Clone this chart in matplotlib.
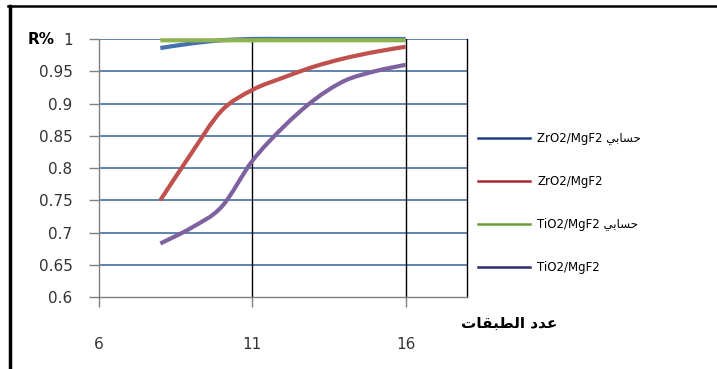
import matplotlib
matplotlib.use("Agg")
import matplotlib.pyplot as plt
from matplotlib.lines import Line2D
from matplotlib.path import Path
from matplotlib.patches import PathPatch

plt.rcParams['font.family'] = ['DejaVu Sans']

# Number of layers
layers = [8, 9, 10, 11, 12, 13, 14, 15, 16]

# Reflectance R (fraction)
zro2_calc = [0.986, 0.993, 0.998, 1.0, 1.0, 1.0, 1.0, 1.0, 1.0]
zro2_meas = [0.750, 0.822, 0.889, 0.921, 0.940, 0.957, 0.970, 0.980, 0.988]
tio2_calc = [0.998, 0.998, 0.998, 0.998, 0.998, 0.998, 0.998, 0.998, 0.998]
tio2_meas = [0.683, 0.707, 0.740, 0.811, 0.863, 0.905, 0.935, 0.950, 0.960]

# Arabic text in visual (shaped, right-to-left reversed) presentation forms
calc_word = "\uFEF2\uFE91\uFE8E\uFEB4\uFEA3"          # حسابي
layers_title = "\uFE95\uFE8E\uFED8\uFE92\uFEC4\uFEDF\uFE8D \uFEA9\uFEAA\uFECB"  # عدد الطبقات

labels = [
    "ZrO2/MgF2 " + calc_word,
    "ZrO2/MgF2",
    "TiO2/MgF2 " + calc_word,
    "TiO2/MgF2",
]
colors = ["#4470b0", "#c0504d", "#8fb350", "#7e62a0"]
legend_colors = ["#1f3f82", "#a8282c", "#6e9a3c", "#2e2a6e"]

y_ticks = [0.6, 0.65, 0.7, 0.75, 0.8, 0.85, 0.9, 0.95, 1]
y_tick_labels = ["0.6", "0.65", "0.7", "0.75", "0.8", "0.85", "0.9", "0.95", "1"]
x_ticks = [6, 11, 16]


def smooth_path(xs, ys, tension=1 / 6):
    """Smoothed line through the points as cubic Bezier segments (Catmull-Rom style)."""
    verts = [(xs[0], ys[0])]
    codes = [Path.MOVETO]
    n = len(xs)
    for i in range(n - 1):
        x0, y0 = (xs[i - 1], ys[i - 1]) if i > 0 else (xs[i], ys[i])
        x1, y1 = xs[i], ys[i]
        x2, y2 = xs[i + 1], ys[i + 1]
        x3, y3 = (xs[i + 2], ys[i + 2]) if i + 2 < n else (x2, y2)
        c1 = (x1 + (x2 - x0) * tension, y1 + (y2 - y0) * tension)
        c2 = (x2 - (x3 - x1) * tension, y2 - (y3 - y1) * tension)
        verts += [c1, c2, (x2, y2)]
        codes += [Path.CURVE4] * 3
    return Path(verts, codes)


fig = plt.figure(figsize=(7.17, 3.69), dpi=100)
ax = fig.add_axes([99 / 717, 1 - 297 / 369, (467 - 99) / 717, (297 - 39) / 369])

series = [zro2_calc, zro2_meas, tio2_calc, tio2_meas]
order = [0, 1, 3, 2]  # green drawn on top of blue
for i in order:
    patch = PathPatch(smooth_path(layers, series[i]), facecolor='none',
                      edgecolor=colors[i], lw=3.0, capstyle='butt',
                      joinstyle='round', zorder=3 + i, clip_on=False)
    ax.add_patch(patch)

ax.set_xlim(6, 18)
ax.set_ylim(0.6, 1.0)
ax.set_yticks(y_ticks)
ax.set_yticklabels(y_tick_labels)
ax.set_xticks(x_ticks)

# Horizontal gridlines in blue, vertical gridlines in black
for yv in y_ticks[1:]:
    ax.axhline(yv, color="#5577a8", lw=1.3, zorder=1)
for xv in x_ticks[1:]:
    ax.axvline(xv, color="black", lw=1.0, zorder=2)

ax.tick_params(axis='y', length=7, width=1.0, color="#808080", pad=12,
               labelsize=11, labelcolor="#333333")
ax.tick_params(axis='x', length=7, width=1.0, color="#808080", pad=22,
               labelsize=11, labelcolor="#333333")

for side in ['left', 'bottom']:
    ax.spines[side].set_color("#808080")
    ax.spines[side].set_linewidth(1.0)
ax.spines['top'].set_visible(False)
ax.spines['right'].set_color("black")
ax.spines['right'].set_linewidth(1.0)

# Axis captions
fig.text(28 / 717, 1 - 39 / 369, "R%", fontsize=11, fontweight='bold',
         ha='left', va='center')
fig.text(509 / 717, 1 - 323 / 369, layers_title, fontsize=11, fontweight='bold',
         ha='center', va='center')

# Legend
handles = [Line2D([0], [0], color=c, lw=1.8) for c in legend_colors]
fig.legend(handles, labels, loc='center left', bbox_to_anchor=(478 / 717, 1 - 203 / 369),
           frameon=False, fontsize=8.5, handlelength=4.4, handletextpad=0.6,
           labelspacing=2.55, borderpad=0, borderaxespad=0)

# Outer frame lines
fig.add_artist(Line2D([9.5 / 717, 9.5 / 717], [0, 1 - 6 / 369], color="black",
                      lw=2.5, transform=fig.transFigure))
fig.add_artist(Line2D([8 / 717, 1], [1 - 6 / 369, 1 - 6 / 369], color="black",
                      lw=1.8, transform=fig.transFigure))

fig.savefig("out.png", dpi=100)
